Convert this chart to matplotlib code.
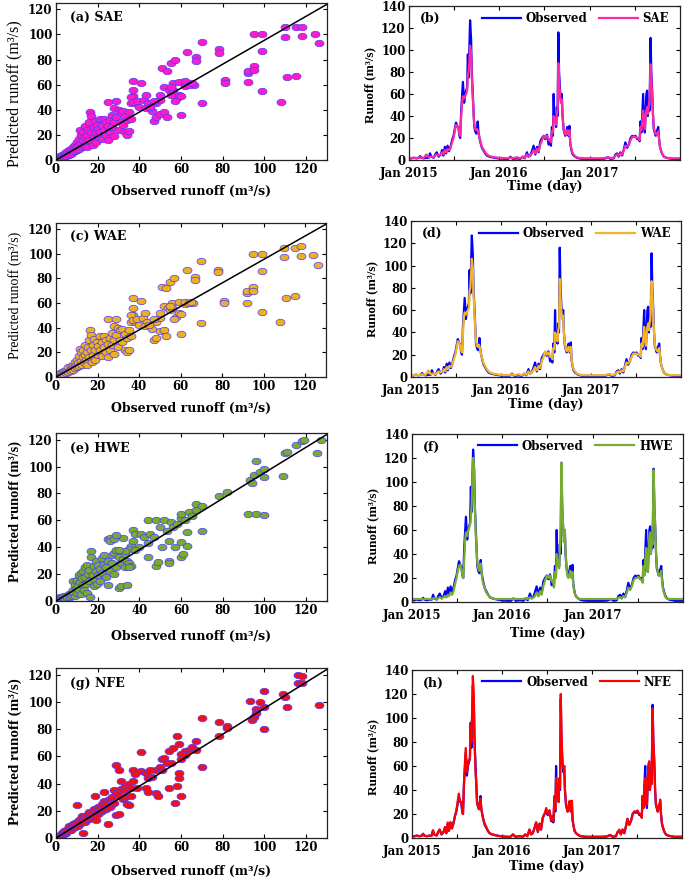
import numpy as np
import pandas as pd
import matplotlib
matplotlib.use("Agg")
import matplotlib.pyplot as plt

# ── time series (day offset from 2015-01-01, runoff m3/s) ───────────
days = [0, 10, 20, 30, 40, 45, 50, 60, 70, 80,
        85, 90, 100, 106, 112, 120, 128, 134, 139, 145,
        150, 156, 162, 168, 174, 180, 185, 190, 195, 200,
        204, 207, 211, 214, 218, 223, 227, 231, 235, 238,
        241, 244, 247, 251, 254, 258, 261, 264, 268, 272,
        275, 278, 281, 285, 290, 295, 300, 308, 315, 325,
        335, 345, 360, 375, 390, 400, 410, 420, 437, 450,
        460, 468, 477, 483, 490, 497, 504, 511, 518, 524,
        531, 538, 545, 551, 558, 565, 570, 574, 578, 582,
        585, 588, 591, 595, 598, 601, 604, 607, 611, 614,
        618, 621, 625, 628, 632, 636, 640, 645, 649, 652,
        656, 660, 666, 672, 679, 686, 695, 710, 730, 750,
        770, 790, 805, 815, 828, 835, 842, 848, 855, 862,
        869, 875, 882, 889, 896, 903, 909, 916, 923, 929,
        933, 936, 940, 943, 947, 950, 954, 957, 960, 963,
        966, 970, 973, 977, 980, 984, 987, 990, 994, 998,
        1001, 1005, 1008, 1011, 1015, 1020, 1025, 1031, 1040, 1051,
        1065, 1080, 1095]

observed = [1.5, 1.5, 2, 1.5, 2, 3.5, 2, 1.5, 2, 2,
            6, 3, 2, 5, 7, 3, 5, 9, 4, 12,
            6, 13, 8, 12, 18, 22, 28, 34, 31, 29,
            22, 20, 45, 56, 71, 52, 60, 63, 66, 96,
            75, 100, 127, 110, 80, 60, 45, 30, 26, 24,
            28, 35, 25, 20, 15, 11, 9, 6, 4, 3,
            2.5, 2, 1.5, 1.2, 1, 1, 3, 1, 1.5, 1,
            3, 1.5, 7, 3, 4, 8, 13, 5, 12, 7,
            17, 20, 22, 19, 23, 14, 18, 13, 30, 22,
            60, 35, 40, 30, 48, 40, 116, 80, 63, 55,
            60, 40, 28, 25, 22, 25, 30, 22, 31, 15,
            10, 6, 4, 3, 2, 1.5, 1.2, 1, 1, 1,
            1, 1.2, 2.5, 1, 1.5, 5, 6, 3, 7, 4,
            10, 16, 11, 14, 20, 22, 21, 22, 19, 20,
            17, 35, 25, 40, 60, 30, 25, 45, 60, 63,
            40, 50, 45, 111, 80, 60, 40, 28, 25, 22,
            25, 28, 30, 20, 12, 8, 5, 3, 2, 1.5,
            1, 1, 1]

sae_series = [1.8, 1.8, 2, 1.8, 2, 2.5, 2, 2, 5, 2.5,
              3, 3, 2.5, 4, 5, 4, 5, 7, 5, 9,
              7, 10, 9, 11, 16, 20, 26, 32, 31, 28,
              24, 22, 40, 50, 58, 56, 58, 60, 63, 78,
              80, 90, 104, 98, 75, 55, 42, 32, 28, 27,
              28, 27, 24, 20, 16, 12, 10, 7, 5, 3.5,
              3, 2.5, 2, 1.8, 1.5, 1.5, 2.5, 1.5, 2.5, 1.5,
              3, 2, 5, 3, 4, 6, 9, 6, 10, 8,
              14, 18, 22, 20, 22, 18, 19, 16, 26, 25,
              40, 35, 38, 32, 42, 45, 88, 72, 58, 52,
              55, 40, 30, 26, 23, 24, 27, 23, 27, 16,
              11, 7, 5, 3.5, 2.5, 2, 1.8, 1.5, 1.5, 1.5,
              1.5, 1.8, 2.5, 1.8, 2, 4, 5, 4, 6, 5,
              9, 13, 12, 14, 18, 21, 21, 21, 20, 20,
              18, 30, 27, 35, 45, 33, 28, 40, 45, 48,
              42, 50, 55, 87, 75, 55, 40, 30, 25, 24,
              23, 25, 26, 20, 12, 8, 5, 3, 2, 1.8,
              1.5, 1.5, 1.5]

wae_series = [1.8, 1.8, 2, 1.8, 2, 2.5, 2, 2, 6, 2.5,
              3, 3, 2.5, 4, 5, 4, 5, 7, 5, 9,
              7, 10, 9, 11, 16, 20, 26, 32, 31, 28,
              24, 22, 40, 52, 58, 56, 58, 60, 62, 78,
              80, 92, 106, 98, 75, 55, 42, 32, 28, 27,
              29, 28, 24, 20, 16, 12, 10, 7, 5, 3.5,
              3, 2.5, 2, 1.8, 1.5, 1.5, 2.5, 1.5, 2.5, 1.5,
              3, 2, 5, 3, 4, 6, 9, 6, 10, 8,
              14, 18, 23, 20, 22, 18, 19, 16, 26, 25,
              40, 35, 38, 32, 42, 45, 88, 72, 58, 52,
              55, 40, 30, 26, 23, 24, 27, 23, 27, 16,
              11, 7, 5, 3.5, 2.5, 2, 1.8, 1.5, 1.5, 1.5,
              1.5, 1.8, 2.5, 1.8, 2, 4, 5, 4, 6, 5,
              9, 13, 12, 14, 18, 21, 21, 21, 20, 20,
              18, 30, 27, 35, 45, 33, 28, 40, 45, 48,
              42, 50, 55, 86, 75, 55, 40, 30, 25, 24,
              23, 25, 26, 20, 12, 8, 5, 3, 2, 1.8,
              1.5, 1.5, 1.5]

hwe_series = [2.5, 2.5, 2.5, 2.5, 2.5, 2.5, 2.5, 2.5, 2.5, 2.5,
              3, 3, 2.5, 3, 4, 3, 4, 5, 4, 6,
              5, 8, 6, 9, 15, 20, 26, 30, 31, 27,
              23, 20, 35, 50, 58, 55, 60, 62, 65, 70,
              80, 100, 120, 112, 80, 55, 45, 33, 28, 26,
              30, 32, 25, 18, 14, 11, 8, 6, 4, 3,
              2.5, 2.5, 2.5, 2.5, 2.5, 2.5, 2.5, 2.5, 2.5, 2.5,
              3, 2.5, 4, 3, 3.5, 5, 8, 5, 9, 6,
              13, 18, 22, 20, 22, 17, 18, 12, 25, 20,
              40, 30, 35, 28, 45, 55, 116, 90, 62, 50,
              60, 42, 28, 22, 20, 22, 26, 20, 25, 14,
              9, 6, 4, 3, 2.5, 2.5, 2.5, 2.5, 2.5, 2.5,
              2.5, 2.5, 2.5, 2.5, 2.5, 3.5, 4, 3, 5, 4,
              8, 12, 10, 13, 18, 20, 20, 21, 19, 18,
              16, 30, 22, 35, 45, 28, 25, 42, 55, 58,
              40, 50, 48, 110, 85, 58, 40, 30, 25, 22,
              22, 24, 26, 18, 11, 7, 4, 3, 2.5, 2.5,
              2.5, 2.5, 2.5]

nfe_series = [1.5, 1.5, 2, 1.5, 2, 3.5, 2, 1.5, 2, 2,
              6.5, 3, 2, 5, 7, 3, 5, 9, 4, 13,
              6, 13, 8, 12, 18, 23, 30, 37, 30, 30,
              22, 20, 46, 58, 75, 55, 62, 65, 66, 95,
              80, 105, 135, 118, 80, 55, 45, 30, 26, 24,
              29, 33, 25, 20, 15, 12, 10, 6, 4, 3,
              2.5, 2, 1.5, 1.2, 1, 1, 3, 1, 1.5, 1,
              3, 1.5, 7, 3, 4, 8, 13, 5, 12, 7,
              17, 20, 25, 20, 23, 15, 18, 14, 35, 24,
              50, 35, 45, 30, 50, 42, 120, 85, 63, 58,
              60, 40, 30, 25, 22, 25, 31, 22, 31, 15,
              10, 6, 4, 3, 2, 1.5, 1.2, 1, 1, 1,
              1, 1.2, 2.5, 1, 1.5, 5, 7, 3, 7, 4,
              10, 16, 11, 14, 20, 22, 22, 23, 20, 20,
              17, 35, 25, 42, 50, 30, 28, 50, 60, 64,
              40, 52, 45, 108, 80, 65, 42, 30, 25, 22,
              25, 28, 32, 20, 12, 8, 5, 3, 2, 1.5,
              1, 1, 1]

# ── scatter: observed vs predicted ──────────────────────────────────
ac_obs = [0.5, 1, 1, 1.5, 2, 2, 2.5, 3, 3, 3.5, 4, 4, 4.5, 5, 5, 5.5, 6, 6, 6.5, 7,
          7, 7.5, 8, 8, 8.5, 9, 9, 9.5, 10, 10, 10.5, 11, 11, 11.5, 12, 12, 12.5, 13, 13, 13.5,
          14, 14, 14.5, 15, 15, 15.5, 16, 16, 16.5, 17, 17, 17.5, 18, 18, 18.5, 19, 19, 19.5, 20, 20,
          21, 21, 22, 22, 23, 23, 24, 24, 25, 25, 25, 26, 26, 27, 27, 28, 28, 28, 29, 29,
          30, 30, 31, 31, 32, 32, 33, 33, 34, 34, 35, 35, 36, 36, 37, 38,
          37, 37, 41, 36, 37, 39, 40, 42, 43, 44, 43, 46, 47, 48, 48, 50, 50, 52, 53, 52,
          54, 56, 59, 62, 62, 66, 58, 59, 60, 55, 56, 60, 70, 51, 53, 55, 57, 63, 67, 67,
          70, 78, 78, 81, 81, 92, 92, 92, 95, 95, 99, 99, 95, 99, 108, 110, 110, 111, 115, 115,
          118, 118, 124, 126, 45, 47, 50, 55, 57, 64, 65]
sae_pred = [1, 0.5, 2, 1, 3, 1, 2, 4, 1.5, 3, 5, 2, 4, 6, 3, 5, 8, 4, 6, 9,
            5, 7, 10, 6, 8, 12, 7, 10, 14, 8, 11, 17, 9, 24, 13, 20, 10, 16, 22, 12,
            18, 27, 14, 20, 10, 24, 16, 30, 38, 35, 22, 12, 26, 18, 31, 22, 14, 28, 25, 18,
            33, 22, 28, 17, 33, 24, 30, 20, 46, 27, 16, 32, 22, 36, 26, 41, 19, 30, 47, 34,
            40, 24, 38, 30, 39, 28, 35, 22, 32, 20, 23, 38, 45, 33, 51, 45,
            63, 56, 61, 50, 46, 47, 42, 48, 52, 45, 41, 39, 31, 34, 45, 48, 37, 38, 34, 58,
            56, 61, 62, 59, 63, 60, 49, 52, 51, 52, 56, 36, 45, 73, 71, 77, 80, 86, 82, 79,
            94, 88, 85, 64, 61, 62, 69, 71, 75, 72, 87, 55, 100, 100, 46, 106, 98, 66, 106, 67,
            106, 99, 100, 93, 42, 47, 52, 58, 47, 60, 61]
wae_pred = [1, 0.5, 2, 1, 3, 1, 2, 4, 1.5, 3, 5, 2, 4, 6, 3, 5, 8, 4, 6, 9,
            5, 7, 10, 6, 8, 12, 7, 10, 14, 8, 11, 17, 9, 23, 13, 20, 10, 16, 22, 12,
            18, 26, 14, 20, 10, 24, 16, 30, 38, 34, 22, 12, 26, 18, 31, 22, 14, 28, 25, 18,
            33, 22, 28, 17, 33, 24, 30, 20, 47, 27, 16, 32, 22, 36, 26, 41, 19, 30, 47, 34,
            40, 24, 38, 30, 39, 28, 35, 22, 32, 20, 22, 38, 45, 33, 50, 45,
            64, 56, 62, 50, 46, 47, 42, 48, 52, 45, 41, 39, 30, 32, 45, 48, 37, 38, 33, 58,
            56, 60, 61, 59, 61, 60, 49, 52, 51, 54, 56, 35, 44, 73, 72, 77, 80, 87, 81, 79,
            94, 87, 85, 62, 60, 60, 68, 70, 73, 70, 86, 53, 100, 100, 45, 105, 97, 64, 105, 66,
            106, 98, 99, 91, 42, 47, 52, 58, 47, 60, 61]

hwe_obs = [0.5, 1, 1.5, 2, 2.5, 3, 3.5, 4, 4.5, 5, 5.5, 6, 6.5, 7, 7.5, 8, 8, 8.5, 9, 9,
           9.5, 10, 10, 10.5, 11, 11, 11.5, 12, 12, 12.5, 13, 13, 13.5, 14, 14, 14.5, 15, 15, 15.5, 16,
           16, 16.5, 17, 17, 17.5, 18, 18, 18.5, 19, 19, 19.5, 20, 20, 21, 21, 22, 22, 23, 23, 24,
           24, 25, 25, 25, 26, 26, 27, 27, 28, 28, 29, 29, 30, 30, 31, 31, 32, 32, 33, 33,
           34, 34, 35, 36, 36,
           26, 28, 29, 37, 38, 41, 42, 37, 35, 35, 44, 44, 44, 48, 49, 48, 51, 52, 54, 55,
           54, 54, 57, 60, 61, 60, 60, 60, 64, 63, 63, 67, 67, 70, 70, 78, 82, 92, 96, 100,
           93, 94, 95, 96, 98, 100, 100, 109, 110, 111, 115, 118, 119, 125, 127, 45, 50, 56, 58, 62,
           65, 40, 47, 53, 33, 38, 30]
hwe_pred = [2, 2.5, 2, 3, 2.5, 3, 2, 3.5, 2.5, 4, 3, 5, 3, 6, 4, 8, 15, 5, 12, 4,
            9, 16, 6, 11, 19, 8, 14, 21, 5, 17, 12, 22, 8, 18, 25, 13, 27, 6, 20, 15,
            23, 3, 37, 33, 19, 11, 26, 16, 30, 22, 13, 27, 19, 24, 15, 32, 21, 34, 27, 18,
            25, 46, 30, 12, 47, 22, 28, 34, 36, 20, 38, 25, 33, 10, 11, 28, 47, 31, 35, 25,
            12, 30, 28, 26, 41,
            45, 46, 49, 53, 50, 50, 48, 45, 39, 25, 43, 33, 60, 26, 29, 60, 40, 60, 45, 59,
            30, 28, 40, 33, 35, 44, 62, 65, 66, 51, 41, 68, 72, 71, 52, 78, 81, 65, 65, 64,
            90, 88, 94, 104, 96, 98, 92, 93, 110, 111, 116, 119, 120, 110, 120, 50, 55, 55, 57, 60,
            63, 40, 48, 52, 37, 38, 38]

nfe_obs = [0.5, 1, 1, 1.5, 2, 2, 2.5, 3, 3, 3.5, 4, 4, 4.5, 5, 5, 5.5, 6, 6, 6.5, 7,
           7, 7.5, 8, 8, 8.5, 9, 9, 9.5, 10, 10, 10.5, 11, 11, 12, 12, 12.5, 13, 13, 13.5, 14,
           14, 15, 15, 16, 16, 17, 17, 18, 18, 18.7, 19, 19, 20, 20, 21, 21, 22, 22, 23, 23,
           24, 24, 25, 25, 26, 26, 27, 27, 28, 28, 29, 29, 29, 30, 30, 30, 31, 31, 32, 32,
           33, 33, 34, 34, 35, 35, 36, 36, 37, 38, 37, 39,
           41, 41, 43, 43, 44, 44, 48, 49, 48, 51, 51, 52, 53, 54, 54, 56, 57, 58, 58, 59,
           59, 60, 59, 60, 60, 62, 64, 67, 67, 70, 70, 78, 78, 82, 82, 93, 94, 95, 96, 96,
           98, 100, 100, 100, 109, 110, 111, 116, 118, 116, 118, 126, 46, 50, 55, 62, 65, 45]
nfe_pred = [1, 0.5, 1.5, 1, 2.5, 1, 2, 3.5, 2, 3, 5, 3, 4, 6, 4, 5, 7, 9, 6, 8,
            6, 9, 10, 7, 9, 11, 8, 10, 12, 24, 9, 13, 10, 14, 11, 16, 4, 13, 16, 15,
            12, 17, 14, 19, 14, 18, 15, 21, 16, 31, 20, 13, 23, 18, 22, 19, 25, 20, 27, 34,
            26, 21, 10, 28, 29, 23, 30, 25, 35, 26, 17, 33, 54, 31, 18, 50, 36, 42, 35, 29,
            38, 30, 36, 25, 24, 40, 37, 31, 50, 47, 42, 37,
            63, 49, 48, 37, 34, 44, 33, 31, 50, 50, 58, 59, 55, 64, 37, 66, 26, 75, 38, 48,
            44, 31, 69, 62, 58, 64, 65, 65, 71, 88, 52, 85, 75, 82, 81, 101, 87, 89, 95, 92,
            100, 108, 96, 80, 106, 104, 96, 120, 119, 114, 114, 98, 45, 52, 55, 61, 67, 50]

OBS_COLOR = "#0000FF"
SERIF = "DejaVu Serif"
plt.rcParams["font.family"] = SERIF
plt.rcParams["font.weight"] = "bold"

theta = np.linspace(0, 2 * np.pi, 40)
ellipse = np.column_stack([np.cos(theta), 0.72 * np.sin(theta)])

panels = [
    dict(tag="(a) SAE", ts_tag="(b)", name="SAE", color="#FF1AC8", line="#FF2A9D",
         sx=ac_obs, sy=sae_pred, series=sae_series, ylw="normal", yfs=11.5,
         lpos=(0.0818, 0.8184, 0.3956, 0.1782), rpos=(0.5971, 0.8184, 0.3956, 0.1748),
         lab_y=0.42, xl_l=-0.16, xl_r=-0.13, ry=0.49),
    dict(tag="(c) WAE", ts_tag="(d)", name="WAE", color="#EDB120", line="#F2B324",
         sx=ac_obs, sy=wae_pred, series=wae_series, ylw="normal", yfs=10,
         lpos=(0.0818, 0.5721, 0.394, 0.1748), rpos=(0.6, 0.5721, 0.394, 0.1771),
         lab_y=0.53, xl_l=-0.162, xl_r=-0.135, ry=0.5),
    dict(tag="(e) HWE", ts_tag="(f)", name="HWE", color="#77AC30", line="#77AC30",
         sx=hwe_obs, sy=hwe_pred, series=hwe_series, ylw="bold", yfs=10.4,
         lpos=(0.0818, 0.3178, 0.3956, 0.1907), rpos=(0.6015, 0.3167, 0.3956, 0.1907),
         lab_y=0.53, xl_l=-0.173, xl_r=-0.149, ry=0.45),
    dict(tag="(g) NFE", ts_tag="(h)", name="NFE", color="#F01018", line="#FF0000",
         sx=nfe_obs, sy=nfe_pred, series=nfe_series, ylw="bold", yfs=10.8,
         lpos=(0.0818, 0.0488, 0.3956, 0.193), rpos=(0.6015, 0.0488, 0.394, 0.1907),
         lab_y=0.506, xl_l=-0.159, xl_r=-0.13, ry=0.48),
]

dates = pd.Timestamp("2015-01-01") + pd.to_timedelta(days, unit="D")
tick_dates = [pd.Timestamp(f"{y}-{m:02d}-01") for y in (2015, 2016, 2017) for m in (1, 7)]
tick_names = ["Jan 2015", "", "Jan 2016", "", "Jan 2017", ""]


def style(ax):
    ax.tick_params(direction="in", top=True, right=True, length=3, width=0.8,
                   labelsize=8.5, pad=2.5)
    for t in ax.get_xticklabels() + ax.get_yticklabels():
        t.set_fontweight("bold")
    for s in ax.spines.values():
        s.set_linewidth(0.9)
        s.set_color("#222222")


fig = plt.figure(figsize=(6.85, 8.81), dpi=100)

for p in panels:
    # scatter panel
    ax = fig.add_axes(p["lpos"])
    ax.scatter(p["sx"], p["sy"], s=42, marker=ellipse, c=p["color"],
               edgecolors="#4B3BFF", linewidths=0.5, zorder=2)
    ax.plot([0, 130], [0, 124], color="black", lw=1.1, zorder=3)
    ax.set_xlim(0, 130)
    ax.set_ylim(0, 125)
    ax.set_xticks(range(0, 121, 20))
    ax.set_yticks(range(0, 121, 20))
    style(ax)
    ax.text(0.05, 0.91, p["tag"], transform=ax.transAxes, fontsize=9,
            fontweight="bold", va="center")
    ax.set_xlabel("Observed runoff (m³/s)", fontsize=9, fontweight="bold")
    ax.xaxis.set_label_coords(0.5, p["xl_l"])
    ax.set_ylabel("Predicted runoff (m³/s)", fontsize=p["yfs"], family="Liberation Serif",
                  fontweight=p["ylw"])
    ax.yaxis.set_label_coords(-0.125, p["lab_y"])

    # time series panel
    ax = fig.add_axes(p["rpos"])
    ax.plot(dates, observed, color=OBS_COLOR, lw=1.6, label="Observed")
    ax.plot(dates, p["series"], color=p["line"], lw=1.6, label=p["name"])
    ax.set_xlim(pd.Timestamp("2015-01-01"), pd.Timestamp("2018-01-01"))
    ax.set_ylim(0, 140)
    ax.set_yticks(range(0, 141, 20))
    ax.set_xticks(tick_dates)
    ax.set_xticklabels(tick_names)
    style(ax)
    ax.tick_params(axis="x", pad=5)
    ax.text(0.04, 0.92, p["ts_tag"], transform=ax.transAxes, fontsize=9,
            fontweight="bold", va="center")
    ax.legend(loc="upper right", bbox_to_anchor=(1.0, 1.03), ncol=2, frameon=False,
              handlelength=3.3, handletextpad=0.4, columnspacing=1.0,
              prop=dict(family=SERIF, weight="bold", size=8.5))
    ax.set_xlabel("Time (day)", fontsize=9, fontweight="bold")
    ax.xaxis.set_label_coords(0.5, p["xl_r"])
    ax.set_ylabel("Runoff (m³/s)", fontsize=9.5, family="Liberation Serif", fontweight="bold")
    ax.yaxis.set_label_coords(-0.122, p["ry"])

fig.savefig("out.png", dpi=100, facecolor="white")
